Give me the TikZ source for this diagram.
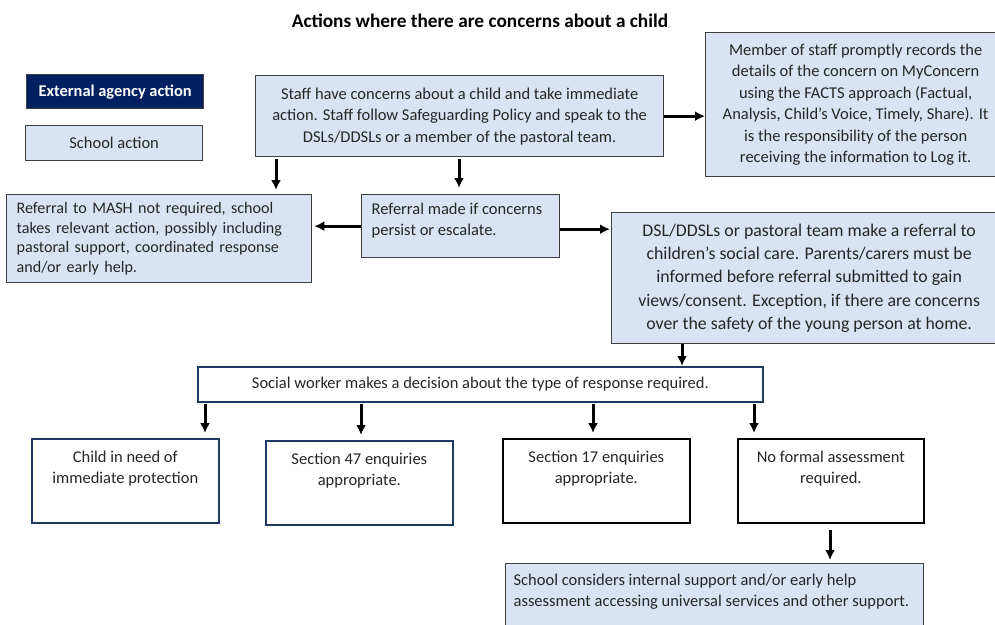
\documentclass[tikz,border=0pt]{standalone}
\usepackage{fontspec}
\setmainfont{Carlito}
\usepackage{xcolor}
\usetikzlibrary{arrows.meta}

\definecolor{navy}{HTML}{002060}
\definecolor{paleblue}{HTML}{DAE3F3}
\definecolor{boxline}{HTML}{3F3F3F}
\definecolor{navyline}{HTML}{1F3864}
\definecolor{ink}{HTML}{262626}

\tikzset{
	box/.style={anchor=north west, inner sep=0pt, text=ink,
		font=\fontsize{16.5}{21.5}\selectfont},
	schoolbox/.style={box, draw=boxline, fill=paleblue, line width=1.3pt},
	agencybox/.style={box, draw=boxline, fill=navy, line width=1.3pt, text=white,
		font=\fontsize{16.4}{19}\selectfont\bfseries},
	outcome/.style={box, draw=#1, fill=white, line width=1.7pt},
	arr/.style={-{Latex[length=10pt,width=10pt]}, line width=3pt, black}
}

\begin{document}
\begin{tikzpicture}[x=1pt,y=-1pt]
	\clip (0,0) rectangle (995,624);
	
	% title
	\node[font=\fontsize{19.3}{22}\selectfont\bfseries] (title) at (480,21)
		{Actions where there are concerns about a child};
	
	% key
	\node[agencybox, minimum width=177pt, minimum height=34pt] (keyA) at (26,74)
		{External agency action};
	\node[schoolbox, minimum width=177pt, minimum height=35pt] (keyS) at (25,125)
		{School action};
	
	% school action boxes
	\node[schoolbox, minimum width=408pt, minimum height=81pt, align=center] (staff) at (255,75)
		{Staff have concerns about a child and take immediate\\
		 action. Staff follow Safeguarding Policy and speak to the\\
		 DSLs/DDSLs or a member of the pastoral team.};
	\node[schoolbox, minimum width=300pt, minimum height=144pt, align=center] (member) at (705,32)
		{Member of staff promptly records the\\
		 details of the concern on MyConcern\\
		 using the FACTS approach (Factual,\\
		 Analysis, Child’s Voice, Timely, Share). It\\
		 is the responsibility of the person\\
		 receiving the information to Log it.};
	\node[schoolbox, minimum width=305pt, minimum height=88pt, text width=285pt, align=left,
		font=\fontsize{16.1}{19.5}\selectfont] (mash) at (6,194)
		{Referral to MASH not required, school\\
		 takes relevant action, possibly including\\
		 pastoral support, coordinated response\\
		 and/or early help.};
	\node[schoolbox, minimum width=198pt, minimum height=63pt] (refer) at (361,194)
		{\parbox[t][47pt][t]{178pt}{Referral made if concerns\\persist or escalate.}};
	\node[schoolbox, minimum width=395pt, minimum height=131pt, align=center,
		font=\fontsize{17.8}{23.3}\selectfont] (dsl) at (611,212)
		{DSL/DDSLs or pastoral team make a referral to\\
		 children’s social care. Parents/carers must be\\
		 informed before referral submitted to gain\\
		 views/consent. Exception, if there are concerns\\
		 over the safety of the young person at home.};
	
	% social worker and outcomes
	\node[outcome=navyline, minimum width=565pt, minimum height=35pt] (social) at (197,366)
		{Social worker makes a decision about the type of response required.};
	\node[outcome=navyline, minimum width=187pt, minimum height=84pt] (child) at (31,438)
		{\parbox[t][60pt][t]{180pt}{\centering Child in need of\\immediate protection}};
	\node[outcome=navyline, minimum width=187pt, minimum height=84pt] (sec47) at (265,440)
		{\parbox[t][60pt][t]{180pt}{\centering Section 47 enquiries\\appropriate.}};
	\node[outcome=black, minimum width=187pt, minimum height=84pt] (sec17) at (502,438)
		{\parbox[t][60pt][t]{180pt}{\centering Section 17 enquiries\\appropriate.}};
	\node[outcome=black, minimum width=186pt, minimum height=84pt] (noform) at (737,438)
		{\parbox[t][60pt][t]{180pt}{\centering No formal assessment\\required.}};
	\node[schoolbox, minimum width=418pt, minimum height=76pt] (considers) at (505,563)
		{\parbox[t][56pt][t]{402pt}{School considers internal support and/or early help\\
		 assessment accessing universal services and other support.}};
	
	% connectors
	\draw[arr] (staff.east) -- (staff.east -| member.west);
	\draw[arr, shorten <=2pt, shorten >=4pt] ([xshift=21pt]staff.south west) -- ([xshift=270pt]mash.north west);
	\draw[arr, shorten <=2pt, shorten >=6pt] ([xshift=204pt]staff.south west) -- ([xshift=98pt]refer.north west);
	\draw[arr, shorten >=2pt] (refer.west) -- (refer.west -| mash.east);
	\draw[arr, shorten >=1pt] ([yshift=-3pt]refer.east) -- ([yshift=-3pt]refer.east -| dsl.west);
	\draw[arr] ([xshift=71pt]dsl.south west) -- ([xshift=485pt]social.north west);
	\foreach \from/\to/\dx/\dy in
		{social/child/8/174, social/sec47/164/96, social/sec17/396/91, social/noform/557/17}{
		\draw[arr, shorten <=1pt, shorten >=5pt] ([xshift=\dx pt]\from.south west) -- ([xshift=\dy pt]\to.north west);
	}
	\draw[arr, shorten <=6pt, shorten >=3pt] ([xshift=93pt]noform.south west) -- ([xshift=325pt]considers.north west);
\end{tikzpicture}
\end{document}
